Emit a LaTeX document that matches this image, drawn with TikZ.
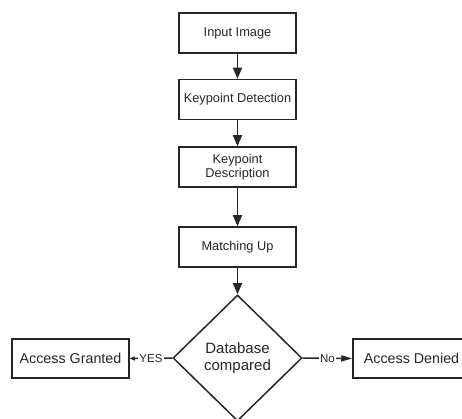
\documentclass[tikz,border=0pt]{standalone}
\usepackage{fontspec}
\setmainfont{Liberation Sans}
\usetikzlibrary{shapes.geometric,arrows.meta}

\begin{document}
\begin{tikzpicture}[x=1pt,y=-1pt,
    box/.style={draw=black!85, line width=1.5pt, minimum width=117pt,
      minimum height=40pt, inner sep=2pt, align=center, text=black!85,
      font=\fontsize{12.8}{14.5}\selectfont},
    sidebox/.style={box, minimum height=39pt, font=\fontsize{14.3}{16}\selectfont},
    arr/.style={-{Triangle[length=11pt,width=9pt]}, line width=1.5pt, draw=black!85},
    lbl/.style={fill=white, inner sep=1pt, text=black!85, font=\fontsize{11.5}{12}\selectfont}]
    \useasboundingbox (0,0) rectangle (462,419);
    \node[box] (input) at (237.5,33) {Input Image};
    \node[box] (detect) at (237.5,99.5) {Keypoint Detection};
    \node[box] (desc) at (237.5,167) {Keypoint\\Description};
    \node[box] (match) at (237.5,247) {Matching Up};
    \node[draw=black!85, line width=1.5pt, diamond, minimum width=129pt,
      minimum height=126pt, inner sep=0pt, align=center, text=black!85,
      font=\fontsize{15}{17}\selectfont] (db) at (237.5,358) {Database\\compared};
    \node[sidebox] (granted) at (70.5,358.5) {Access Granted};
    \node[sidebox] (denied) at (411.5,358.5) {Access Denied};
    \draw[arr] (input) -- (detect);
    \draw[arr] (detect) -- (desc);
    \draw[arr] (desc) -- (match);
    \draw[arr] (match) -- (db);
    \draw[arr, -{Triangle[length=5pt,width=4pt]}] (db.west) -- node[lbl] {YES} (granted.east);
    \draw[arr, -{Triangle[length=11pt,width=6pt]}] (db.east) -- node[lbl] {No} (denied.west);
\end{tikzpicture}
\end{document}
